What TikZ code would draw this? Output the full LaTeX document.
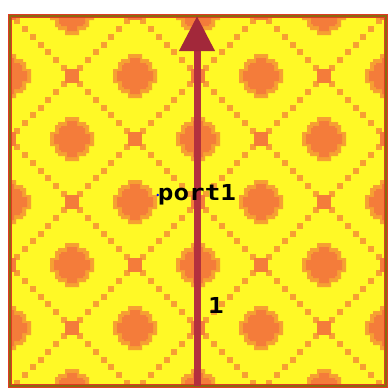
\documentclass[tikz,border=0pt]{standalone}
\usepackage{fontspec}
\newfontfamily\monob{DejaVu Sans Mono}
\usetikzlibrary{arrows.meta}
\definecolor{yel}{HTML}{FFF926}
\definecolor{ordark}{HTML}{F47C3A}
\definecolor{orlight}{HTML}{F6A032}
\definecolor{olive}{HTML}{8B6A0E}
\definecolor{bred}{HTML}{E03A24}
\definecolor{arrowc}{HTML}{B3303E}
\definecolor{arrowhi}{HTML}{C8485A}
\definecolor{arrowtip}{HTML}{A2283A}
\tikzset{
  lbl/.style={font=\monob\bfseries\fontsize{22}{22}\selectfont, text=black, inner sep=0pt},
  linesq/.style={fill=orlight},
  crosssq/.style={fill=ordark},
}
\begin{document}
\begin{tikzpicture}[x=1pt,y=-1pt]
\useasboundingbox (0,0) rectangle (391,392);
\coordinate (tl) at (10,16);
\coordinate (br) at (386,386);
\begin{scope}
\clip (tl) rectangle (br);
\fill[yel] (tl) rectangle (br);
\foreach \i in {-1,...,5}{
 \foreach \j in {-1,...,5}{
  \pgfmathsetmacro\cx{72+63*\i}
  \pgfmathsetmacro\cy{76+63*\j}
  \ifodd\numexpr\i+\j\relax
    \begin{scope}[shift={(\cx,\cy)}]
     \fill[orlight] (-22,-7) rectangle (22,7) (-7,-22) rectangle (7,22) (-17,-14) rectangle (17,14) (-14,-17) rectangle (14,17);
     \fill[ordark] (-18,-5) rectangle (18,5) (-5,-18) rectangle (5,18) (-13,-11) rectangle (13,11) (-11,-13) rectangle (11,13);
    \end{scope}
  \else
    \begin{scope}[shift={(\cx,\cy)}]
      \foreach \k in {1,...,7}{
        \fill[linesq] ({\k*7.875-3},{\k*7.875-3}) rectangle +(6,6);
        \fill[linesq] ({\k*7.875-3},{-\k*7.875-3}) rectangle +(6,6);
      }
      \fill[crosssq] (-7,-7) rectangle (7,7);
    \end{scope}
  \fi
 }
}
\end{scope}
\draw[bred, line width=4] (tl) rectangle (br);
\draw[olive, line width=2] (tl) rectangle (br);
\coordinate (src) at (197,386);
\coordinate (dst) at (197,16);
\draw[arrowc, line width=7, -{Triangle[width=34pt,length=35pt,fill=arrowtip,color=arrowtip]}] (src) -- (dst);
\node[lbl] (p1) at (197,195) {\scalebox{1.18}[1]{port1}};
\node[lbl] (n1) at (216,305) {\scalebox{1.18}[1]{1}};
\fill[blue] (p1.west) circle (1.3);
\end{tikzpicture}
\end{document}
